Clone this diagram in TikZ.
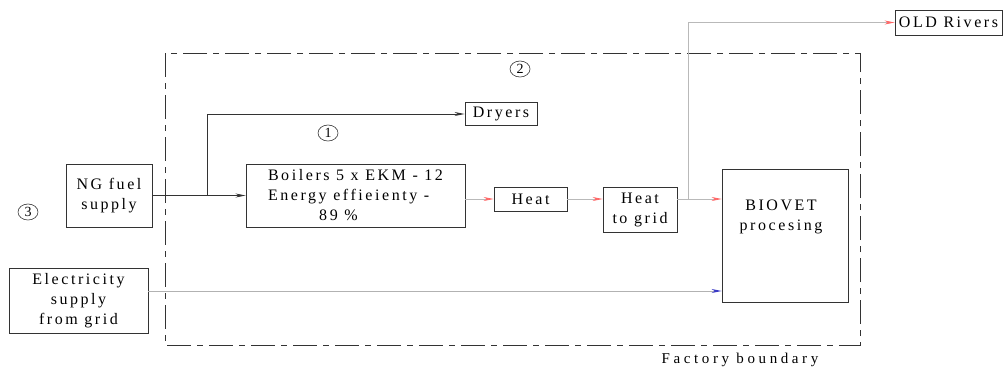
\documentclass[tikz,border=0pt]{standalone}
\usepackage{fontspec}
\setmainfont{Liberation Serif}[LetterSpace=16]
\newfontfamily\lblfont{Liberation Serif}[LetterSpace=24]
\newfontfamily\numfont{Liberation Serif}
\usetikzlibrary{arrows.meta,shapes.geometric}
\begin{document}
\begin{tikzpicture}[x=1pt,y=-1pt,
  box/.style={draw=black!80, line width=0.9pt, inner sep=0pt, align=center, font=\fontsize{16}{20}\selectfont},
  txt/.style={inner sep=0pt, align=center, font=\fontsize{16}{20}\selectfont},
  num/.style={draw=black!80, ellipse, line width=0.6pt, inner sep=0pt, minimum width=20pt, minimum height=16pt, font=\numfont\fontsize{14}{14}\selectfont},
  fuel/.style={draw=black!80, line width=0.8pt, -{Stealth[length=10pt,width=4pt]}},
  heatl/.style={draw=gray!55, line width=0.7pt, -{Stealth[length=10pt,width=4pt,color=red!60]}},
  elecl/.style={draw=gray!60, line width=0.8pt, -{Stealth[length=10pt,width=4pt,color=blue!55!gray]}},
  boundary/.style={draw=black!80, line width=0.8pt, dash pattern=on 24pt off 6pt on 6pt off 6pt}]
\useasboundingbox (0,0) rectangle (1003,368);
% factory boundary
\draw[boundary] (165,53) rectangle (860,345);
\node[inner sep=0pt, font=\lblfont\fontsize{15}{16}\selectfont] (fb) at (740,360) {Factory boundary};
% boxes
\node[box, minimum width=86pt, minimum height=63pt] (ng) at (109,195.5) {NG fuel\\supply};
\node[box, minimum width=139pt, minimum height=65pt] (elec) at (78.5,300.5) {Electricity\\supply\\from grid};
\node[box, minimum width=219pt, minimum height=63pt, align=left] (boil) at (355.5,195.5) {Boilers 5 x EKM - 12\\Energy effieienty -\\\hspace*{3.2em}89 \%};
\node[box, minimum width=72pt, minimum height=23pt] (dry) at (501,114) {Dryers};
\node[box, minimum width=73pt, minimum height=24pt] (heat) at (530.5,199) {Heat};
\node[box, minimum width=74pt, minimum height=45pt] (htg) at (640,209.5) {Heat\\to grid};
\node[box, minimum width=126pt, minimum height=133pt] (bio) at (785,235.5) {};
\node[txt] (biot) at (781,217) {BIOVET\\procesing};
\node[box, minimum width=107pt, minimum height=25pt] (old) at (948.5,22.5) {OLD Rivers};
% circled numbers
\node[num] (n1) at (328,133) {1};
\node[num] (n2) at (520,69) {2};
\node[num] (n3) at (28,212) {3};
% connectors
\coordinate (br) at (207,195.5);
\draw[fuel] (ng.east) -- (boil.west);
\draw[fuel] (br) |- (dry.west);
\draw[heatl] (boil.east |- heat.west) -- (heat.west);
\draw[heatl] (heat.east) -- (heat.east -| htg.west);
\coordinate (j) at (688,199);
\draw[heatl] (heat.east -| htg.east) -- (heat.east -| bio.west);
\draw[heatl] (j) |- (old.west);
\draw[elecl] ([yshift=9.5pt]elec.east) -- ([yshift=9.5pt]elec.east -| bio.west);
\end{tikzpicture}
\end{document}
